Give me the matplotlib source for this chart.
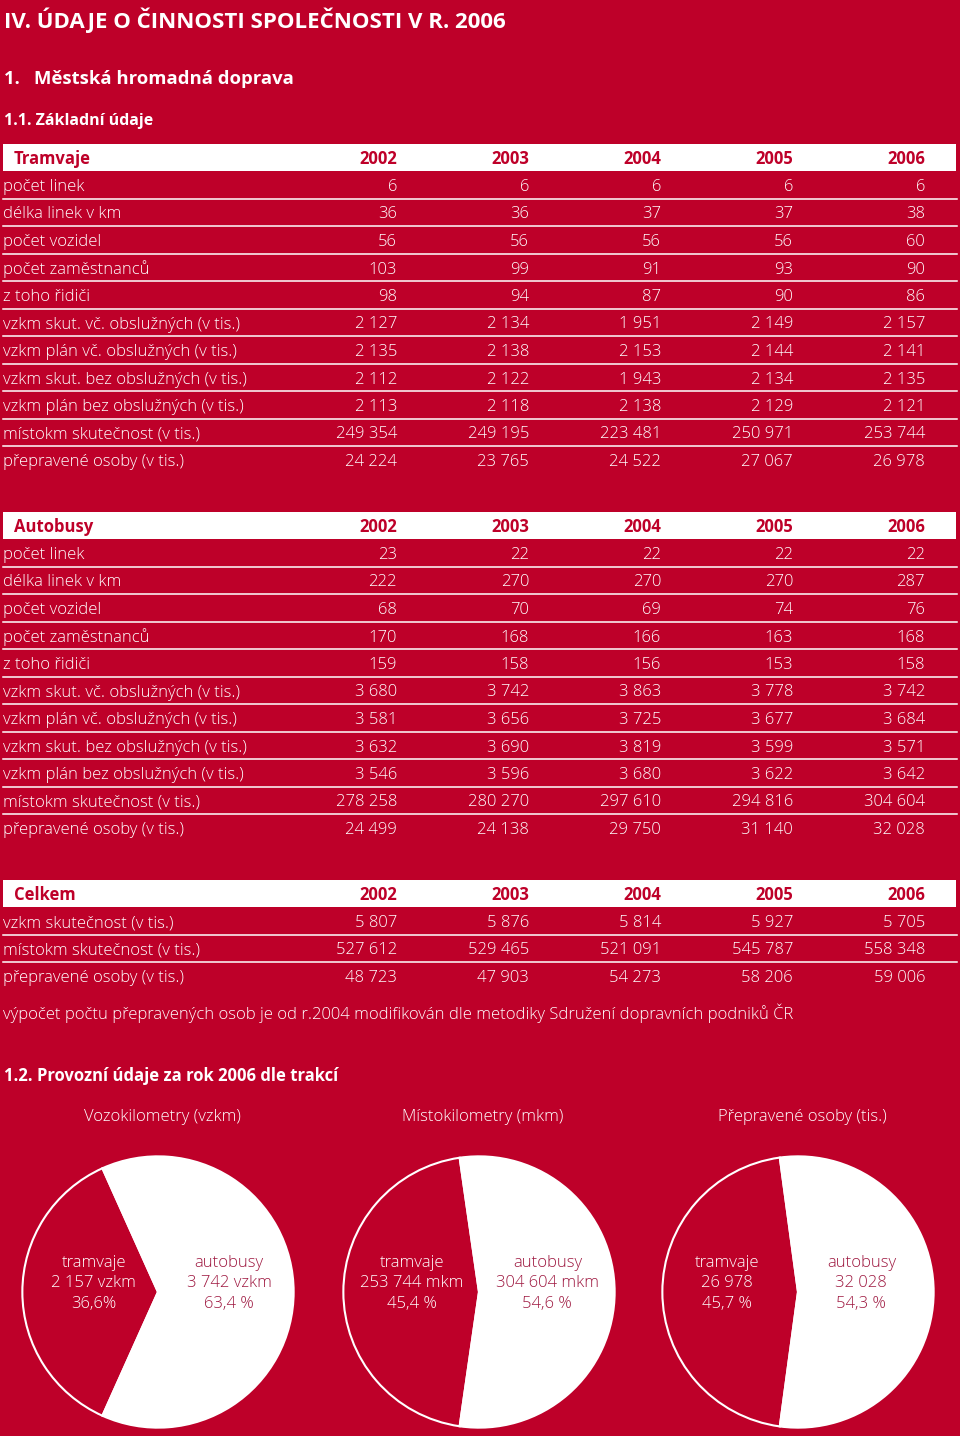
import numpy as np
import matplotlib
matplotlib.use("Agg")
import matplotlib.pyplot as plt

# colours
BG = '#BE0029'
DARK = '#9E1840'

years = ['2002', '2003', '2004', '2005', '2006']

tram_labels = ['počet linek', 'délka linek v km', 'počet vozidel', 'počet zaměstnanců',
               'z toho řidiči', 'vzkm skut. vč. obslužných (v tis.)',
               'vzkm plán vč. obslužných (v tis.)', 'vzkm skut. bez obslužných (v tis.)',
               'vzkm plán bez obslužných (v tis.)', 'místokm skutečnost (v tis.)',
               'přepravené osoby (v tis.)']
tram_values = [
    [6, 6, 6, 6, 6],
    [36, 36, 37, 37, 38],
    [56, 56, 56, 56, 60],
    [103, 99, 91, 93, 90],
    [98, 94, 87, 90, 86],
    [2127, 2134, 1951, 2149, 2157],
    [2135, 2138, 2153, 2144, 2141],
    [2112, 2122, 1943, 2134, 2135],
    [2113, 2118, 2138, 2129, 2121],
    [249354, 249195, 223481, 250971, 253744],
    [24224, 23765, 24522, 27067, 26978],
]

bus_labels = tram_labels
bus_values = [
    [23, 22, 22, 22, 22],
    [222, 270, 270, 270, 287],
    [68, 70, 69, 74, 76],
    [170, 168, 166, 163, 168],
    [159, 158, 156, 153, 158],
    [3680, 3742, 3863, 3778, 3742],
    [3581, 3656, 3725, 3677, 3684],
    [3632, 3690, 3819, 3599, 3571],
    [3546, 3596, 3680, 3622, 3642],
    [278258, 280270, 297610, 294816, 304604],
    [24499, 24138, 29750, 31140, 32028],
]

total_labels = ['vzkm skutečnost (v tis.)', 'místokm skutečnost (v tis.)',
                'přepravené osoby (v tis.)']
total_values = [
    [5807, 5876, 5814, 5927, 5705],
    [527612, 529465, 521091, 545787, 558348],
    [48723, 47903, 54273, 58206, 59006],
]

pie_titles = ['Vozokilometry (vzkm)', 'Místokilometry (mkm)', 'Přepravené osoby (tis.)']
pie_tram = [2157, 253744, 26978]
pie_bus = [3742, 304604, 32028]
pie_units = [' vzkm', ' mkm', '']
pie_pct_sep = ['', ' ', ' ']

FONT = 'Open Sans'
W, H = 960, 1436
DY = 2  # text baseline nudge


def fmt(v):
    return '{:,}'.format(v).replace(',', ' ')


fig = plt.figure(figsize=(W / 100, H / 100), dpi=100)
fig.patch.set_facecolor(BG)
ax = fig.add_axes([0, 0, 1, 1])
ax.set_xlim(0, W)
ax.set_ylim(H, 0)
ax.axis('off')

ax.text(4, 20, 'IV. ÚDAJE O ČINNOSTI SPOLEČNOSTI V R. 2006', color='white',
        fontsize=16, fontweight='bold', family=FONT, va='center')
ax.text(4, 79, '1.   Městská hromadná doprava', color='white',
        fontsize=13.3, fontweight='bold', family=FONT, va='center')
ax.text(4, 121, '1.1. Základní údaje', color='white',
        fontsize=11.5, fontweight='bold', family=FONT, va='center')

col_x = [397, 529, 661, 793, 925]
row_h = 27.5


def table(title, labels, values, y0):
    ax.fill_between([3, 956], y0 - 13.5, y0 + 13.5, color='white', lw=0)
    ax.text(14, y0 + DY, title, color=BG, fontsize=12, fontweight='bold', family=FONT, va='center')
    for x, yr in zip(col_x, years):
        ax.text(x, y0 + DY, yr, color=BG, fontsize=12, fontweight='bold', family=FONT,
                va='center', ha='right')
    for i, (lab, vals) in enumerate(zip(labels, values)):
        y = y0 + row_h * (i + 1)
        ax.text(3, y + DY, lab, color='white', fontsize=12, fontweight='light', family=FONT,
                va='center')
        for x, v in zip(col_x, vals):
            ax.text(x, y + DY, fmt(v), color='white', fontsize=12, fontweight='light',
                    family=FONT, va='center', ha='right')
        if i < len(labels) - 1:
            ax.plot([3, 957], [y + row_h / 2, y + row_h / 2], color='white', lw=1.1)


table('Tramvaje', tram_labels, tram_values, 157.5)
table('Autobusy', bus_labels, bus_values, 525.5)
table('Celkem', total_labels, total_values, 893.5)

ax.text(3, 1013, 'výpočet počtu přepravených osob je od r.2004 modifikován dle metodiky '
        'Sdružení dopravních podniků ČR', color='white', fontsize=12, fontweight='light',
        family=FONT, va='center')
ax.text(4, 1076, '1.2. Provozní údaje za rok 2006 dle trakcí', color='white',
        fontsize=12, fontweight='bold', family=FONT, va='center')

centers = [158, 479, 798]
left_off = [-65, -68, -72]
right_off = [72, 69, 64]
cy, r = 1292, 137
for i in range(3):
    cx = centers[i]
    ax.text(cx + 4, 1117, pie_titles[i], color='white', fontsize=12, fontweight='light',
            family=FONT, va='center', ha='center')
    pax = fig.add_axes([(cx - r) / W, 1 - (cy + r) / H, 2 * r / W, 2 * r / H])
    tot = pie_tram[i] + pie_bus[i]
    ft = pie_tram[i] / tot
    pax.pie([pie_tram[i], pie_bus[i]], colors=[BG, 'white'], startangle=180 - ft * 180,
            wedgeprops=dict(edgecolor='white', linewidth=1.5), radius=1)
    pax.set_xlim(-1.01, 1.01)
    pax.set_ylim(-1.01, 1.01)
    pax.axis('off')
    pt = '{:.1f}'.format(ft * 100).replace('.', ',') + pie_pct_sep[i] + '%'
    pb = '{:.1f}'.format((1 - ft) * 100).replace('.', ',') + ' %'
    ty = (cy - 1283) / r
    pax.text(left_off[i] / r, ty, 'tramvaje\n' + fmt(pie_tram[i]) + pie_units[i] + '\n' + pt,
             color='white', fontsize=12, fontweight='light', family=FONT,
             ha='center', va='center', linespacing=1.38)
    pax.text(right_off[i] / r, ty, 'autobusy\n' + fmt(pie_bus[i]) + pie_units[i] + '\n' + pb,
             color=DARK, fontsize=12, fontweight='light', family=FONT,
             ha='center', va='center', linespacing=1.38)

fig.savefig('out.png', dpi=100, facecolor=BG)
